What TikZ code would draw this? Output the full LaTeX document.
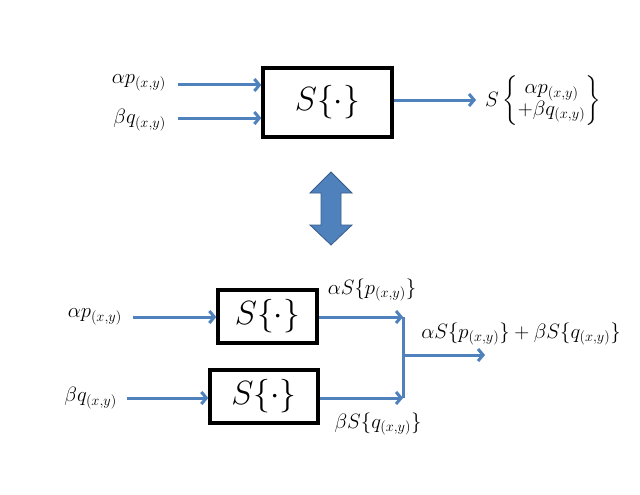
\documentclass[tikz,border=0pt]{standalone}
\usepackage{amsmath}
\usepackage{graphicx}
\usepackage{tikz}
\usetikzlibrary{arrows.meta, positioning}
\definecolor{sigblue}{HTML}{4F81BD}
\definecolor{sigedge}{HTML}{385D8A}
\newcommand{\sysop}{\scalebox{1.35}{$S\{\cdot\}$}}

\tikzset{
  sysbox/.style={draw=black, line width=3.4pt, fill=white, inner sep=0pt, font=\Huge},
  sig/.style={->, draw=sigblue, line width=3pt},
  lbl/.style={font=\huge, inner sep=1pt}
}

\begin{document}
\begin{tikzpicture}[x=1pt, y=-1pt, >={Straight Barb[length=5pt, width=12pt]}]
    \useasboundingbox (0,0) rectangle (640,495);

    % upper system: superposition of inputs
    \node[sysbox, minimum width=129pt, minimum height=69pt] (S) at (327.5,102.5) {\sysop};
    \coordinate (pin) at (178,85);
    \coordinate (qin) at (178,118);
    \coordinate (out) at (476,100);
    \node[lbl, anchor=west] (ol) at (484,101)
        {\renewcommand{\arraystretch}{0.8}$S\left\{\begin{array}{@{}c@{}}\alpha p_{(x,y)}\\ +\beta q_{(x,y)}\end{array}\right\}$};
    \node[lbl, anchor=east] (pl) at (167,83) {$\alpha p_{(x,y)}$};
    \node[lbl, anchor=east] (ql) at (167,120) {$\beta q_{(x,y)}$};

    \draw[sig] (pin) -- (pin -| S.west);
    \draw[sig] (qin) -- (qin -| S.west);
    \draw[sig] (S.east |- out) -- (out);

    % equivalence
    \filldraw[fill=sigblue, draw=sigedge, line width=0.8pt]
        (331,172) -- (352,193) -- (341,193) -- (341,225) -- (352,225) -- (331,245)
        -- (310,225) -- (321,225) -- (321,193) -- (310,193) -- cycle;

    % lower systems: separate inputs, then sum
    \node[sysbox, minimum width=99pt, minimum height=53pt] (S1) at (267.5,316.5) {\sysop};
    \node[sysbox, minimum width=108pt, minimum height=53pt] (S2) at (264,396.5) {\sysop};
    \coordinate (p1) at (133,317);
    \coordinate (q2) at (127,398);
    \coordinate (j1) at (403,317);
    \coordinate (j2) at (403,398);
    \coordinate (jm) at (403,355);
    \coordinate (sum) at (485,355);
    \node[lbl, anchor=east] (pl2) at (123,317) {$\alpha p_{(x,y)}$};
    \node[lbl, anchor=east] (ql2) at (118,398) {$\beta q_{(x,y)}$};
    \node[lbl] (sp) at (372,290) {$\alpha S\{p_{(x,y)}\}$};
    \node[lbl] (sq) at (378,424) {$\beta S\{q_{(x,y)}\}$};
    \node[lbl] (ss) at (521,334) {$\alpha S\{p_{(x,y)}\}+\beta S\{q_{(x,y)}\}$};

    \draw[sig] (p1) -- (p1 -| S1.west);
    \draw[sig] (q2) -- (q2 -| S2.west);
    \draw[sig] (S1.east |- j1) -- (j1);
    \draw[sig] (S2.east |- j2) -- (j2);
    \draw[sigblue, line width=3pt] (j1) -- (j2);
    \draw[sig] (jm) -- (sum);
\end{tikzpicture}
\end{document}
